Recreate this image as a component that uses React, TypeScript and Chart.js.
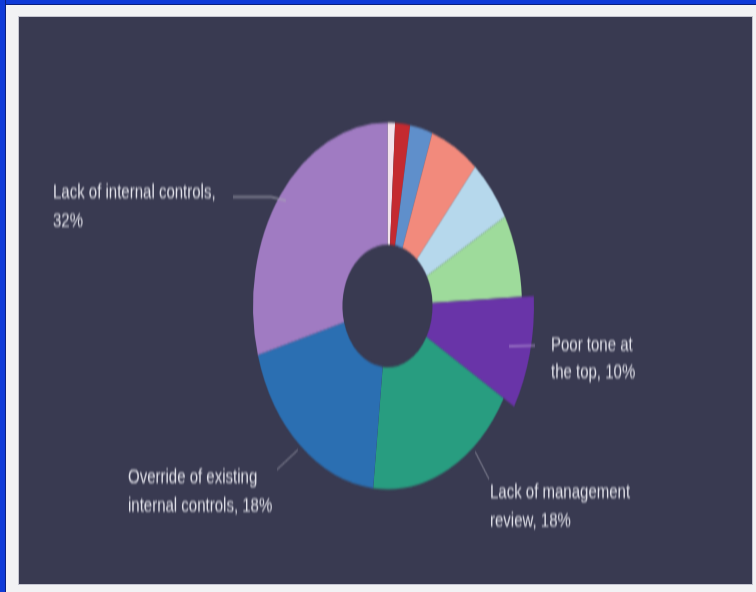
import { useEffect, useRef } from 'react';
import { Chart, registerables } from 'chart.js';

Chart.register(...registerables);

// ---- data (clockwise from 12 o'clock) ----
const categories = [
  'Lack of reporting mechanism',
  'Lack of clear lines of authority',
  'Lack of employee fraud education',
  'Lack of independent checks/audits',
  'Other',
  'Lack of competent personnel in oversight roles',
  'Poor tone at the top',
  'Lack of management review',
  'Override of existing internal controls',
  'Lack of internal controls',
];
const values = [0.9, 1.8, 2.7, 5.9, 5.6, 7.3, 9.2, 18.3, 19.0, 29.3];
const colors = [
  '#f3e2ec',
  '#c42a30',
  '#5f8fcb',
  '#f28a7c',
  '#b6d8ec',
  '#9edb9b',
  '#6934a8',
  '#289d80',
  '#2b6fb2',
  '#a07bc2',
];

// callout labels (category index + text lines)
const calloutIndex = [9, 6, 7, 8];
const calloutText = [
  ['Lack of internal controls,', '32%'],
  ['Poor tone at', 'the top, 10%'],
  ['Lack of management', 'review, 18%'],
  ['Override of existing', 'internal controls, 18%'],
];

// layout of callouts (unstretched canvas coordinates)
const calloutLayout = [
  { t: 0.5, rf: 0.95, elbow: [252, 132], end: [214, 132], tx: 34, ty: [129, 150], line: '#a9a9b6' },
  { t: 0.5, rf: 0.93, elbow: null, end: [516, 241], tx: 532, ty: [240.5, 261], line: '#b59ad6' },
  { t: 0.31, rf: 1.03, elbow: null, end: [470, 339], tx: 471, ty: [349, 369.5], line: '#8c8c9c' },
  { t: 0.5, rf: 1.03, elbow: null, end: [258, 332], tx: 109, ty: [338, 359], line: '#8c8c9c' },
];

const RAISED_INDEX = 6;
const RAISE = 12;
const CANVAS_W = 733;
const CANVAS_H = 416;
const STRETCH = 567 / 416;

const calloutPlugin = {
  id: 'callouts',
  afterUpdate(chart: any) {
    const arc = chart.getDatasetMeta(0).data[RAISED_INDEX];
    if (arc) arc.outerRadius = arc.outerRadius + RAISE;
  },
  afterDatasetsDraw(chart: any) {
    const ctx = chart.ctx;
    const meta = chart.getDatasetMeta(0);
    const baseR = (meta.controller as any).outerRadius;
    ctx.save();
    calloutLayout.forEach((c, i) => {
      const arc = meta.data[calloutIndex[i]];
      const a = arc.startAngle + (arc.endAngle - arc.startAngle) * c.t;
      const r = baseR * c.rf;
      const ax = arc.x + Math.cos(a) * r;
      const ay = arc.y + Math.sin(a) * r;
      ctx.strokeStyle = c.line;
      ctx.lineWidth = 1;
      ctx.beginPath();
      ctx.moveTo(ax, ay);
      if (c.elbow) ctx.lineTo(c.elbow[0], c.elbow[1]);
      ctx.lineTo(c.end[0], c.end[1]);
      ctx.stroke();
      ctx.fillStyle = '#e2e2ea';
      ctx.font = '15px "Liberation Sans", Arial, sans-serif';
      ctx.textBaseline = 'middle';
      ctx.textAlign = 'left';
      calloutText[i].forEach((line, k) => {
        ctx.fillText(line, c.tx, c.ty[k]);
      });
    });
    ctx.restore();
  },
};

export default function App() {
  const ref = useRef<HTMLCanvasElement | null>(null);

  useEffect(() => {
    document.body.style.margin = '0';
    if (!ref.current) return;
    const chart = new Chart(ref.current, {
      type: 'doughnut',
      data: {
        labels: categories,
        datasets: [
          {
            data: values,
            backgroundColor: colors,
            borderWidth: 0,
          },
        ],
      },
      options: {
        animation: false,
        responsive: false,
        maintainAspectRatio: false,
        devicePixelRatio: 1,
        radius: 134.5,
        cutout: '33.5%',
        layout: { padding: { left: 4, right: 0, top: 8, bottom: 0 } },
        plugins: {
          legend: { display: false },
          tooltip: { enabled: false },
        },
      } as any,
      plugins: [calloutPlugin],
    });
    return () => chart.destroy();
  }, []);

  return (
    <div
      style={{
        position: 'relative',
        width: 756,
        height: 592,
        background: '#f2f2f4',
        overflow: 'hidden',
      }}
    >
      <div style={{ position: 'absolute', left: 0, top: 0, width: 756, height: 4, background: '#0f3ad8', borderBottom: '1px solid #0a1f80' }} />
      <div style={{ position: 'absolute', left: 0, top: 0, width: 5, height: 592, background: '#0f3ad8', borderRight: '1px solid #0a1f80' }} />
      <div
        style={{
          position: 'absolute',
          left: 19,
          top: 17,
          width: CANVAS_W,
          height: 567,
          background: '#393a51',
          boxShadow: '0 0 0 1px #c4c4cf',
          overflow: 'hidden',
        }}
      >
        <div
          style={{
            width: CANVAS_W,
            height: CANVAS_H,
            transform: `scaleY(${STRETCH})`,
            transformOrigin: '0 0',
            filter: 'blur(0.6px)',
          }}
        >
          <canvas ref={ref} width={CANVAS_W} height={CANVAS_H} style={{ display: 'block' }} />
        </div>
      </div>
    </div>
  );
}
